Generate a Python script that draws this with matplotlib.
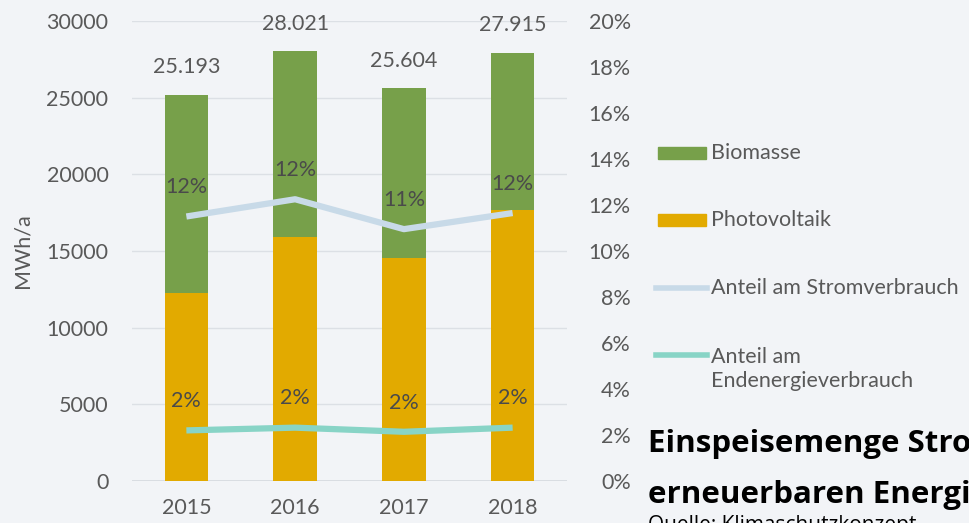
import matplotlib.pyplot as plt
from matplotlib.patches import Rectangle
from matplotlib.lines import Line2D
import numpy as np

# Strom aus erneuerbaren Energien, MWh/a
years = ["2015", "2016", "2017", "2018"]
photovoltaik = [12240, 15890, 14520, 17670]
gesamt = [25193, 28021, 25604, 27915]
biomasse = [g - p for g, p in zip(gesamt, photovoltaik)]
gesamt_labels = ["25.193", "28.021", "25.604", "27.915"]

# Anteile in %
anteil_strom = [11.5, 12.25, 10.95, 11.65]
anteil_strom_labels = ["12%", "12%", "11%", "12%"]
anteil_end = [2.2, 2.32, 2.14, 2.32]
anteil_end_labels = ["2%", "2%", "2%", "2%"]

bg = "#F2F4F7"
green = "#77A04A"
gold = "#E2AA00"
c_strom = "#C8DAE8"
c_end = "#88D4C6"
txt = "#595959"
fs = 15.5

plt.rcParams["font.family"] = ["Lato", "DejaVu Sans"]
plt.rcParams["font.size"] = fs

fig = plt.figure(figsize=(9.69, 5.23), dpi=100, facecolor=bg)
ax = fig.add_axes([132 / 969, 1 - 481 / 523, 435 / 969, 460 / 523])
ax.set_facecolor(bg)

x = np.arange(len(years))
ax.bar(x, photovoltaik, width=0.4, color=gold, zorder=2)
ax.bar(x, biomasse, width=0.4, bottom=photovoltaik, color=green, zorder=2)

for xi, g, lab in zip(x, gesamt, gesamt_labels):
    ax.annotate(lab, (xi, g), xytext=(0, 20), textcoords="offset points",
                ha="center", va="center", color=txt)

ax.set_xlim(-0.5, 3.5)
ax.set_ylim(0, 30000)
ax.set_yticks(range(0, 30001, 5000))
ax.set_xticks(x)
ax.set_xticklabels(years)
ax.set_ylabel("MWh/a", color=txt, labelpad=10)
ax.grid(axis="y", color="#DCE0E5", linewidth=1, zorder=0)
ax.tick_params(axis="y", length=0, pad=17, colors=txt)
ax.tick_params(axis="x", length=0, pad=12, colors=txt)
for s in ax.spines.values():
    s.set_visible(False)
ax.axhline(0, color="#D5D9DE", linewidth=1.2, zorder=1)

ax2 = ax.twinx()
ax2.set_ylim(0, 20)
ax2.set_yticks(range(0, 21, 2))
ax2.set_yticklabels([f"{v}%" for v in range(0, 21, 2)])
for lab in ax2.get_yticklabels():
    lab.set_horizontalalignment("right")
ax2.tick_params(axis="y", length=0, pad=46, colors=txt)
for s in ax2.spines.values():
    s.set_visible(False)

ax2.plot(x, anteil_strom, color=c_strom, linewidth=4.5, solid_capstyle="butt", zorder=3)
ax2.plot(x, anteil_end, color=c_end, linewidth=4.5, solid_capstyle="butt", zorder=3)
for xi, v, lab in zip(x, anteil_strom, anteil_strom_labels):
    ax2.annotate(lab, (xi, v), xytext=(0, 21), textcoords="offset points",
                 ha="center", va="center", color="#4A4A4A")
for xi, v, lab in zip(x, anteil_end, anteil_end_labels):
    ax2.annotate(lab, (xi, v), xytext=(0, 21), textcoords="offset points",
                 ha="center", va="center", color="#4A4A4A")

# legend drawn by hand, entries stacked on the right
W, H = 969, 523
entries = [
    ("patch", green, "Biomasse", 153, 153),
    ("patch", gold, "Photovoltaik", 220, 220),
    ("line", c_strom, "Anteil am Stromverbrauch", 288, 288),
    ("line", c_end, "Anteil am\nEndenergieverbrauch", 355, 369),
]
for kind, col, label, yp, yt in entries:
    yf = 1 - yp / H
    if kind == "patch":
        fig.add_artist(Rectangle((658 / W, yf - 6 / H), 48 / W, 12 / H,
                                 color=col, transform=fig.transFigure))
    else:
        fig.add_artist(Line2D([656 / W, 707 / W], [yf, yf], color=col,
                              linewidth=4, transform=fig.transFigure))
    fig.text(711 / W, 1 - yt / H, label, color=txt, va="center", linespacing=1.2)

title_font = ["Open Sans", "DejaVu Sans"]
fig.text(648 / W, 1 - 452 / H, "Einspeisemenge Strom aus", fontsize=22.5,
         fontweight="bold", family=title_font, color="black")
fig.text(648 / W, 1 - 503 / H, "erneuerbaren Energien", fontsize=22.5,
         fontweight="bold", family=title_font, color="black")
fig.text(648 / W, 1 - 531 / H, "Quelle: Klimaschutzkonzept", fontsize=15,
         family=title_font, color="black")

fig.savefig("out.png", dpi=100, facecolor=bg)
